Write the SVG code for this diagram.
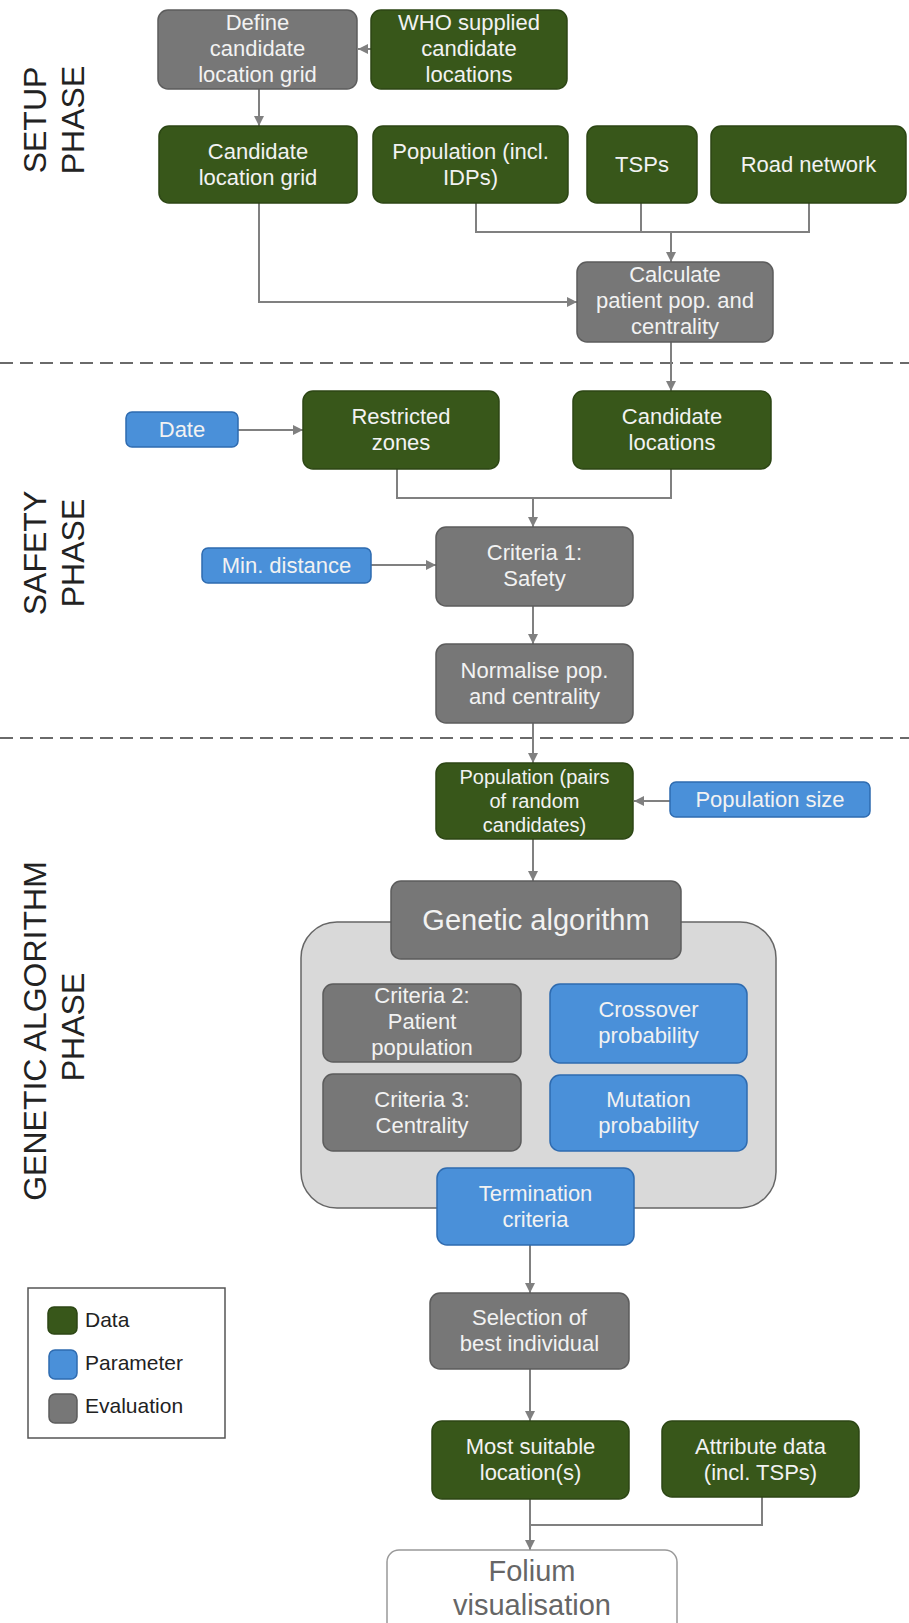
<svg xmlns="http://www.w3.org/2000/svg" width="909" height="1623" viewBox="0 0 909 1623">
<defs>
<style>
.g{fill:#38571a;stroke:#2c4614;stroke-width:1.5}
.b{fill:#4a90d9;stroke:#2e6bb0;stroke-width:1.5}
.e{fill:#777777;stroke:#5c5c5c;stroke-width:1.5}
.t{font-family:"Liberation Sans",Arial,sans-serif;font-size:22px;fill:#f2f2f2;text-anchor:middle}
.ts{font-size:20px}
.ph{font-family:"Liberation Sans",Arial,sans-serif;font-size:32px;fill:#222;text-anchor:middle}
.lg{font-family:"Liberation Sans",Arial,sans-serif;font-size:21px;fill:#222}
.c{fill:none;stroke:#808080;stroke-width:2}
.d{stroke:#6a6a6a;stroke-width:2;stroke-dasharray:13 7}
</style>
<marker id="a" viewBox="0 0 10 10" refX="10" refY="5" markerWidth="5" markerHeight="5" orient="auto" markerUnits="strokeWidth">
<path d="M0,0 L10,5 L0,10 z" fill="#808080"/>
</marker>
</defs>
<rect width="909" height="1623" fill="#ffffff"/>

<g id="phases">
<text class="ph" transform="translate(46,120) rotate(-90)">SETUP</text>
<text class="ph" transform="translate(84,120) rotate(-90)">PHASE</text>
<text class="ph" transform="translate(46,553) rotate(-90)">SAFETY</text>
<text class="ph" transform="translate(84,553) rotate(-90)">PHASE</text>
<text class="ph" transform="translate(46,1031) rotate(-90)">GENETIC ALGORITHM</text>
<text class="ph" transform="translate(84,1027) rotate(-90)">PHASE</text>
<line class="d" x1="0" y1="363" x2="909" y2="363"/>
<line class="d" x1="0" y1="738" x2="909" y2="738"/>
</g>

<g id="container">
<rect x="301" y="922" width="475" height="286" rx="36" fill="#d9d9d9" stroke="#666" stroke-width="1.5"/>
</g>

<g id="connectors">
<path class="c" d="M371,49 H358" marker-end="url(#a)"/>
<path class="c" d="M259,89 V126" marker-end="url(#a)"/>
<path class="c" d="M476,203 V232 H809 V203 M641,203 V232"/>
<path class="c" d="M671,232 V262" marker-end="url(#a)"/>
<path class="c" d="M259,203 V302 H577" marker-end="url(#a)"/>
<path class="c" d="M671,342 V391" marker-end="url(#a)"/>
<path class="c" d="M238,430 H303" marker-end="url(#a)"/>
<path class="c" d="M397,469 V498 H671 V469"/>
<path class="c" d="M533,498 V527" marker-end="url(#a)"/>
<path class="c" d="M371,565 H436" marker-end="url(#a)"/>
<path class="c" d="M533,606 V644" marker-end="url(#a)"/>
<path class="c" d="M533,723 V763" marker-end="url(#a)"/>
<path class="c" d="M670,801 H634" marker-end="url(#a)"/>
<path class="c" d="M533,839 V881" marker-end="url(#a)"/>
<path class="c" d="M530,1245 V1293" marker-end="url(#a)"/>
<path class="c" d="M530,1369 V1421" marker-end="url(#a)"/>
<path class="c" d="M762,1497 V1525 H530"/>
<path class="c" d="M530,1499 V1550" marker-end="url(#a)"/>
</g>

<g id="define"><rect class="e" x="158" y="10" width="199" height="79" rx="10"/>
<text class="t"><tspan x="257.5" y="30">Define</tspan><tspan x="257.5" y="56">candidate</tspan><tspan x="257.5" y="82">location grid</tspan></text></g>

<g id="who"><rect class="g" x="371" y="10" width="196" height="79" rx="10"/>
<text class="t"><tspan x="469" y="30">WHO supplied</tspan><tspan x="469" y="56">candidate</tspan><tspan x="469" y="82">locations</tspan></text></g>

<g id="candidate-grid"><rect class="g" x="159" y="126" width="198" height="77" rx="10"/>
<text class="t"><tspan x="258" y="159">Candidate</tspan><tspan x="258" y="185">location grid</tspan></text></g>

<g id="population"><rect class="g" x="373" y="126" width="195" height="77" rx="10"/>
<text class="t"><tspan x="470.5" y="159">Population (incl.</tspan><tspan x="470.5" y="185">IDPs)</tspan></text></g>

<g id="tsps"><rect class="g" x="587" y="126" width="110" height="77" rx="10"/>
<text class="t" x="642" y="172">TSPs</text></g>

<g id="road"><rect class="g" x="711" y="126" width="195" height="77" rx="10"/>
<text class="t" x="808.5" y="172">Road network</text></g>

<g id="calculate"><rect class="e" x="577" y="262" width="196" height="80" rx="10"/>
<text class="t"><tspan x="675" y="282">Calculate</tspan><tspan x="675" y="308">patient pop. and</tspan><tspan x="675" y="334">centrality</tspan></text></g>

<g id="date"><rect class="b" x="126" y="412" width="112" height="35" rx="6"/>
<text class="t" x="182" y="437">Date</text></g>

<g id="restricted"><rect class="g" x="303" y="391" width="196" height="78" rx="10"/>
<text class="t"><tspan x="401" y="424">Restricted</tspan><tspan x="401" y="450">zones</tspan></text></g>

<g id="candidate-locations"><rect class="g" x="573" y="391" width="198" height="78" rx="10"/>
<text class="t"><tspan x="672" y="424">Candidate</tspan><tspan x="672" y="450">locations</tspan></text></g>

<g id="criteria1"><rect class="e" x="436" y="527" width="197" height="79" rx="10"/>
<text class="t"><tspan x="534.5" y="560">Criteria 1:</tspan><tspan x="534.5" y="586">Safety</tspan></text></g>

<g id="min-distance"><rect class="b" x="202" y="548" width="169" height="35" rx="6"/>
<text class="t" x="286.5" y="573">Min. distance</text></g>

<g id="normalise"><rect class="e" x="436" y="644" width="197" height="79" rx="10"/>
<text class="t"><tspan x="534.5" y="678">Normalise pop.</tspan><tspan x="534.5" y="704">and centrality</tspan></text></g>

<g id="population-pairs"><rect class="g" x="436" y="763" width="197" height="76" rx="10"/>
<text class="t ts"><tspan x="534.5" y="784">Population (pairs</tspan><tspan x="534.5" y="808">of random</tspan><tspan x="534.5" y="832">candidates)</tspan></text></g>

<g id="population-size"><rect class="b" x="670" y="782" width="200" height="35" rx="6"/>
<text class="t" x="770" y="807">Population size</text></g>

<g id="genetic-algorithm"><rect class="e" x="391" y="881" width="290" height="78" rx="10"/>
<text class="t" style="font-size:29px" x="536" y="930">Genetic algorithm</text></g>

<g id="criteria2"><rect class="e" x="323" y="984" width="198" height="78" rx="10"/>
<text class="t"><tspan x="422" y="1003">Criteria 2:</tspan><tspan x="422" y="1029">Patient</tspan><tspan x="422" y="1055">population</tspan></text></g>

<g id="crossover"><rect class="b" x="550" y="984" width="197" height="79" rx="10"/>
<text class="t"><tspan x="648.5" y="1017">Crossover</tspan><tspan x="648.5" y="1043">probability</tspan></text></g>

<g id="criteria3"><rect class="e" x="323" y="1074" width="198" height="77" rx="10"/>
<text class="t"><tspan x="422" y="1107">Criteria 3:</tspan><tspan x="422" y="1133">Centrality</tspan></text></g>

<g id="mutation"><rect class="b" x="550" y="1075" width="197" height="76" rx="10"/>
<text class="t"><tspan x="648.5" y="1107">Mutation</tspan><tspan x="648.5" y="1133">probability</tspan></text></g>

<g id="termination"><rect class="b" x="437" y="1168" width="197" height="77" rx="10"/>
<text class="t"><tspan x="535.5" y="1201">Termination</tspan><tspan x="535.5" y="1227">criteria</tspan></text></g>

<g id="selection"><rect class="e" x="430" y="1293" width="199" height="76" rx="10"/>
<text class="t"><tspan x="529.5" y="1325">Selection of</tspan><tspan x="529.5" y="1351">best individual</tspan></text></g>

<g id="most-suitable"><rect class="g" x="432" y="1421" width="197" height="78" rx="10"/>
<text class="t"><tspan x="530.5" y="1454">Most suitable</tspan><tspan x="530.5" y="1480">location(s)</tspan></text></g>

<g id="attribute"><rect class="g" x="662" y="1421" width="197" height="76" rx="10"/>
<text class="t"><tspan x="760.5" y="1454">Attribute data</tspan><tspan x="760.5" y="1480">(incl. TSPs)</tspan></text></g>

<g id="folium"><rect x="387" y="1550" width="290" height="92" rx="12" fill="#ffffff" stroke="#999" stroke-width="1.5"/>
<text class="t" style="font-size:29px;fill:#666"><tspan x="532" y="1581">Folium</tspan><tspan x="532" y="1615">visualisation</tspan></text></g>

<g id="legend">
<rect x="28" y="1288" width="197" height="150" fill="#fff" stroke="#555" stroke-width="1.5"/>
<rect class="g" x="48" y="1307" width="29" height="27" rx="6"/>
<rect class="b" x="49" y="1350" width="28" height="29" rx="6"/>
<rect class="e" x="49" y="1394" width="28" height="29" rx="6"/>
<text class="lg" x="85" y="1327">Data</text>
<text class="lg" x="85" y="1370">Parameter</text>
<text class="lg" x="85" y="1413">Evaluation</text>
</g>
</svg>
